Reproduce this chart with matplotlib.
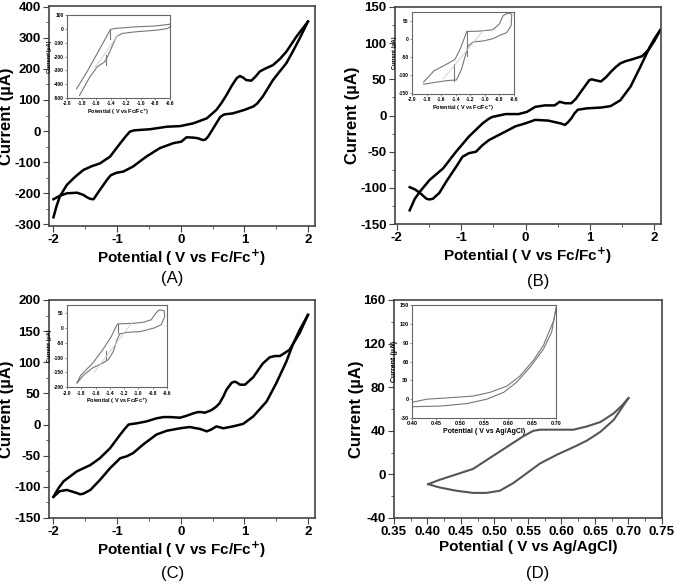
import numpy as np
import matplotlib
matplotlib.use('Agg')
import matplotlib.pyplot as plt
from matplotlib.ticker import MultipleLocator, FormatStrFormatter

plt.rcParams['font.family'] = ['Liberation Sans', 'DejaVu Sans']
plt.rcParams['axes.unicode_minus'] = False

# ---- panel A : CV, forward then reverse scan
a_fx = [-2.0, -1.95, -1.90, -1.79, -1.66, -1.53, -1.40, -1.27, -1.11, -0.95, -0.86, -0.80, -0.74, -0.69, -0.48, -0.22, -0.01, 0.20, 0.41, 0.56, 0.64, 0.72, 0.80, 0.88, 0.93, 0.98, 1.03, 1.11, 1.18, 1.24, 1.32, 1.45, 1.56, 1.66, 1.82, 2.0]
a_fy = [-277, -240, -210, -173, -147, -125, -113, -104, -82, -39, -16, -2, 2, 3, 6, 14, 16, 25, 41, 68, 90, 116, 145, 170, 177, 172, 164, 162, 176, 191, 200, 212, 232, 255, 304, 352]
a_rx = [2.0, 1.87, 1.76, 1.66, 1.55, 1.45, 1.29, 1.20, 1.14, 1.0, 0.82, 0.70, 0.67, 0.62, 0.56, 0.50, 0.43, 0.39, 0.35, 0.31, 0.27, 0.20, 0.09, 0.05, 0.01, -0.12, -0.33, -0.54, -0.75, -0.90, -1.01, -1.10, -1.16, -1.27, -1.37, -1.42, -1.48, -1.53, -1.63, -1.79, -1.90, -2.0]
a_ry = [352, 298, 255, 218, 190, 164, 111, 88, 79, 68, 57, 54, 52, 45, 25, 5, -18, -27, -29, -26, -23, -21, -20, -27, -34, -39, -55, -82, -114, -130, -134, -142, -157, -189, -219, -218, -212, -205, -198, -200, -208, -219]

# ---- panel B
b_fx = [-1.80, -1.72, -1.64, -1.49, -1.28, -1.08, -0.88, -0.67, -0.58, -0.52, -0.31, -0.11, 0.02, 0.15, 0.30, 0.45, 0.53, 0.57, 0.61, 0.71, 0.78, 0.86, 0.99, 1.03, 1.07, 1.17, 1.25, 1.32, 1.40, 1.47, 1.55, 1.63, 1.81, 1.91, 2.0, 2.09]
b_fy = [-131, -115, -105, -89, -73, -50, -29, -11, -5, -2, 2, 2, 5, 12, 14, 14, 19, 18, 17, 17, 23, 33, 49, 50, 49, 47, 53, 60, 67, 72, 75, 77, 82, 91, 103, 118]
b_rx = [2.09, 2.0, 1.93, 1.78, 1.63, 1.47, 1.32, 1.17, 0.96, 0.81, 0.76, 0.71, 0.65, 0.61, 0.55, 0.50, 0.35, 0.15, -0.01, -0.16, -0.31, -0.57, -0.67, -0.77, -0.88, -0.98, -1.08, -1.23, -1.34, -1.44, -1.49, -1.54, -1.64, -1.72, -1.80]
b_ry = [118, 106, 95, 67, 40, 21, 13, 11, 10, 8, 3, -4, -10, -13, -11, -10, -7, -6, -11, -15, -22, -34, -41, -50, -52, -57, -71, -91, -107, -115, -116, -115, -107, -102, -99]

# ---- panel C
c_fx = [-2.0, -1.92, -1.84, -1.63, -1.42, -1.27, -1.11, -0.95, -0.88, -0.82, -0.76, -0.69, -0.54, -0.38, -0.27, -0.17, -0.01, 0.09, 0.20, 0.27, 0.32, 0.38, 0.48, 0.55, 0.61, 0.67, 0.72, 0.80, 0.85, 0.89, 0.93, 1.01, 1.14, 1.29, 1.40, 1.48, 1.56, 1.71, 1.87, 2.0]
c_fy = [-116, -102, -91, -75, -65, -54, -38, -16, -7, 0, 1, 2, 5, 10, 12, 12, 11, 14, 18, 20, 20, 19, 23, 28, 34, 45, 56, 67, 69, 67, 64, 64, 76, 98, 108, 110, 110, 120, 147, 176]
c_rx = [2.0, 1.87, 1.76, 1.66, 1.50, 1.35, 1.14, 0.98, 0.82, 0.67, 0.60, 0.56, 0.48, 0.41, 0.36, 0.30, 0.14, -0.01, -0.22, -0.38, -0.59, -0.75, -0.85, -0.95, -1.11, -1.27, -1.42, -1.53, -1.58, -1.63, -1.79, -1.90, -2.0]
c_ry = [176, 152, 128, 101, 66, 37, 13, 1, -3, -6, -4, -3, -8, -11, -9, -7, -4, -6, -10, -16, -32, -46, -51, -54, -70, -89, -105, -111, -112, -110, -105, -107, -116]

# ---- panel D
d_fx = [0.401, 0.418, 0.443, 0.468, 0.493, 0.518, 0.543, 0.558, 0.568, 0.593, 0.618, 0.638, 0.658, 0.678, 0.690, 0.700]
d_fy = [-9, -5, 0, 5, 15, 25, 35, 40, 41, 41, 41, 44, 48, 56, 63, 70]
d_rx = [0.700, 0.690, 0.678, 0.658, 0.638, 0.618, 0.593, 0.568, 0.548, 0.528, 0.508, 0.488, 0.468, 0.443, 0.418, 0.401]
d_ry = [70, 61, 50, 39, 31, 25, 18, 10, 1, -8, -15, -17, -17, -15, -12, -9]

# ---- insets
ia_x1 = [-1.87, -1.73, -1.59, -1.49, -1.42, -1.41, -1.35, -1.06, -0.82, -0.62, -0.60, -0.59, -0.63, -0.77, -1.06, -1.25, -1.33, -1.37, -1.45, -1.49, -1.59, -1.69, -1.83]
ia_y1 = [-433, -312, -178, -82, -14, -4, 3, 15, 20, 32, 35, 20, 3, -9, -21, -33, -57, -106, -203, -239, -275, -348, -481]
ia_vx = [[-1.41, -1.41], [-1.47, -1.47]]
ia_vy = [[-4, -70], [-190, -263]]
ia_fx = [-1.62, -1.30]
ia_fy = [-280, -40]

ib_x1 = [-1.84, -1.70, -1.52, -1.41, -1.34, -1.27, -1.25, -1.07, -0.89, -0.80, -0.75, -0.68, -0.63, -0.64, -0.70, -0.80, -0.89, -1.02, -1.16, -1.23, -1.27, -1.32, -1.39, -1.52, -1.66, -1.84]
ib_y1 = [-119, -88, -69, -56, -28, 9, 21, 22, 26, 42, 65, 72, 69, 37, 18, 10, 1, -5, -8, -19, -47, -83, -113, -115, -119, -125]
ib_vx = [[-1.25, -1.25], [-1.42, -1.42]]
ib_vy = [[21, -47], [-69, -115]]
ib_fx = [-1.57, -1.02]
ib_fy = [-110, 24]

ic_x1 = [-1.86, -1.81, -1.64, -1.50, -1.38, -1.30, -1.28, -1.06, -0.92, -0.82, -0.75, -0.71, -0.64, -0.63, -0.68, -0.78, -0.97, -1.16, -1.26, -1.30, -1.35, -1.42, -1.50, -1.64, -1.76, -1.86]
ic_y1 = [-186, -161, -119, -74, -29, 11, 14, 16, 20, 28, 52, 61, 59, 39, 11, 0, -12, -15, -20, -40, -79, -107, -119, -135, -158, -186]
ic_vx = [[-1.29, -1.29], [-1.45, -1.45]]
ic_vy = [[14, -17], [-79, -107]]
ic_fx = [-1.62, -1.10]
ic_fy = [-150, 15]

id_ux = [0.40, 0.431, 0.473, 0.528, 0.563, 0.598, 0.625, 0.653, 0.674, 0.695, 0.70]
id_uy = [-5, 0, 2, 5, 11, 21, 37, 62, 86, 125, 145]
id_lx = [0.40, 0.459, 0.514, 0.556, 0.591, 0.618, 0.646, 0.674, 0.691, 0.70]
id_ly = [-12, -11, -7, 0, 11, 27, 51, 80, 107, 145]


def style_main(ax, xlabel):
    for s in ax.spines.values():
        s.set_color('#444444')
        s.set_linewidth(1.2)
    ax.tick_params(which='both', direction='out', top=False, right=False, color='#444444')
    ax.tick_params(which='major', length=4, labelsize=9.5, pad=2)
    ax.tick_params(which='minor', length=2.5)
    for lab in ax.get_xticklabels() + ax.get_yticklabels():
        lab.set_fontweight('bold')
    ax.set_xlabel(xlabel, fontsize=11, fontweight='bold', labelpad=1)
    ax.set_ylabel('Current (µA)', fontsize=12, fontweight='bold', labelpad=0)


def style_inset(ax, xlabel):
    for s in ax.spines.values():
        s.set_color('#666666')
        s.set_linewidth(0.8)
    ax.tick_params(which='both', direction='out', length=1.5, width=0.5, labelsize=3.5, pad=1, color='#666666')
    for lab in ax.get_xticklabels() + ax.get_yticklabels():
        lab.set_fontweight('bold')
    ax.set_xlabel(xlabel, fontsize=4, fontweight='bold', labelpad=1)
    ax.set_ylabel('Current (µA)', fontsize=4, fontweight='bold', labelpad=1)


fc = r'Potential ( V vs Fc/Fc$^{\mathbf{+}}$)'
fig = plt.figure(figsize=(6.75, 5.82), dpi=100)

# A
ax = fig.add_axes([0.0726, 0.6117, 0.394, 0.378])
ax.plot(a_fx, a_fy, 'k', lw=1.8)
ax.plot(a_rx, a_ry, 'k', lw=1.8)
ax.set_xlim(-2.07, 2.11)
ax.set_ylim(-305, 402)
ax.xaxis.set_major_locator(MultipleLocator(1))
ax.xaxis.set_minor_locator(MultipleLocator(0.5))
ax.yaxis.set_major_locator(MultipleLocator(100))
ax.yaxis.set_minor_locator(MultipleLocator(50))
style_main(ax, fc)

ins = fig.add_axes([0.0993, 0.8316, 0.1526, 0.1426])
ins.plot(ia_x1, ia_y1, color='#777777', lw=0.8)
for vx, vy in zip(ia_vx, ia_vy):
    ins.plot(vx, vy, color='#777777', lw=0.8)
ins.plot(ia_fx, ia_fy, color='#cccccc', lw=0.6)
ins.set_xlim(-2.0, -0.6)
ins.set_ylim(-500, 100)
ins.xaxis.set_major_locator(MultipleLocator(0.2))
ins.yaxis.set_major_locator(MultipleLocator(100))
style_inset(ins, fc)

# B
ax = fig.add_axes([0.585, 0.615, 0.394, 0.373])
ax.plot(b_fx, b_fy, 'k', lw=1.8)
ax.plot(b_rx, b_ry, 'k', lw=1.8)
ax.set_xlim(-2.03, 2.1)
ax.set_ylim(-150, 150)
ax.xaxis.set_major_locator(MultipleLocator(1))
ax.xaxis.set_minor_locator(MultipleLocator(0.5))
ax.yaxis.set_major_locator(MultipleLocator(50))
ax.yaxis.set_minor_locator(MultipleLocator(25))
style_main(ax, fc)

ins = fig.add_axes([0.6104, 0.8385, 0.1511, 0.1409])
ins.plot(ib_x1, ib_y1, color='#777777', lw=0.8)
for vx, vy in zip(ib_vx, ib_vy):
    ins.plot(vx, vy, color='#777777', lw=0.8)
ins.plot(ib_fx, ib_fy, color='#cccccc', lw=0.6)
ins.set_xlim(-2.0, -0.6)
ins.set_ylim(-152, 75)
ins.xaxis.set_major_locator(MultipleLocator(0.2))
ins.yaxis.set_major_locator(MultipleLocator(50))
style_inset(ins, fc)

# C
ax = fig.add_axes([0.0726, 0.110, 0.394, 0.3746])
ax.plot(c_fx, c_fy, 'k', lw=1.8)
ax.plot(c_rx, c_ry, 'k', lw=1.8)
ax.set_xlim(-2.07, 2.11)
ax.set_ylim(-150, 200)
ax.xaxis.set_major_locator(MultipleLocator(1))
ax.xaxis.set_minor_locator(MultipleLocator(0.5))
ax.yaxis.set_major_locator(MultipleLocator(50))
ax.yaxis.set_minor_locator(MultipleLocator(25))
style_main(ax, fc)

ins = fig.add_axes([0.0993, 0.335, 0.148, 0.141])
ins.plot(ic_x1, ic_y1, color='#777777', lw=0.8)
for vx, vy in zip(ic_vx, ic_vy):
    ins.plot(vx, vy, color='#777777', lw=0.8)
ins.plot(ic_fx, ic_fy, color='#cccccc', lw=0.6)
ins.set_xlim(-2.0, -0.6)
ins.set_ylim(-200, 78)
ins.xaxis.set_major_locator(MultipleLocator(0.2))
ins.yaxis.set_major_locator(MultipleLocator(50))
style_inset(ins, fc)

# D
ax = fig.add_axes([0.5837, 0.110, 0.397, 0.3746])
ax.plot(d_fx, d_fy, color='#555555', lw=1.5)
ax.plot(d_rx, d_ry, color='#555555', lw=1.5)
ax.set_xlim(0.35, 0.75)
ax.set_ylim(-40, 160)
ax.xaxis.set_major_locator(MultipleLocator(0.05))
ax.xaxis.set_minor_locator(MultipleLocator(0.025))
ax.yaxis.set_major_locator(MultipleLocator(40))
ax.yaxis.set_minor_locator(MultipleLocator(20))
ax.xaxis.set_major_formatter(FormatStrFormatter('%.2f'))
style_main(ax, 'Potential ( V vs Ag/AgCl)')

ins = fig.add_axes([0.6104, 0.2818, 0.2133, 0.194])
ins.plot(id_ux, id_uy, color='#777777', lw=0.8)
ins.plot(id_lx, id_ly, color='#777777', lw=0.8)
ins.set_xlim(0.40, 0.70)
ins.set_ylim(-30, 150)
ins.xaxis.set_major_locator(MultipleLocator(0.05))
ins.yaxis.set_major_locator(MultipleLocator(30))
ins.xaxis.set_major_formatter(FormatStrFormatter('%.2f'))
style_inset(ins, 'Potential ( V vs Ag/AgCl)')
ins.tick_params(labelsize=4)
ins.xaxis.label.set_size(5)
ins.yaxis.label.set_size(5)

# panel letters
fig.text(0.255, 0.522, '(A)', ha='center', va='center', fontsize=12)
fig.text(0.797, 0.517, '(B)', ha='center', va='center', fontsize=12)
fig.text(0.255, 0.014, '(C)', ha='center', va='center', fontsize=12)
fig.text(0.797, 0.014, '(D)', ha='center', va='center', fontsize=12)

plt.savefig('out.png', dpi=100)
